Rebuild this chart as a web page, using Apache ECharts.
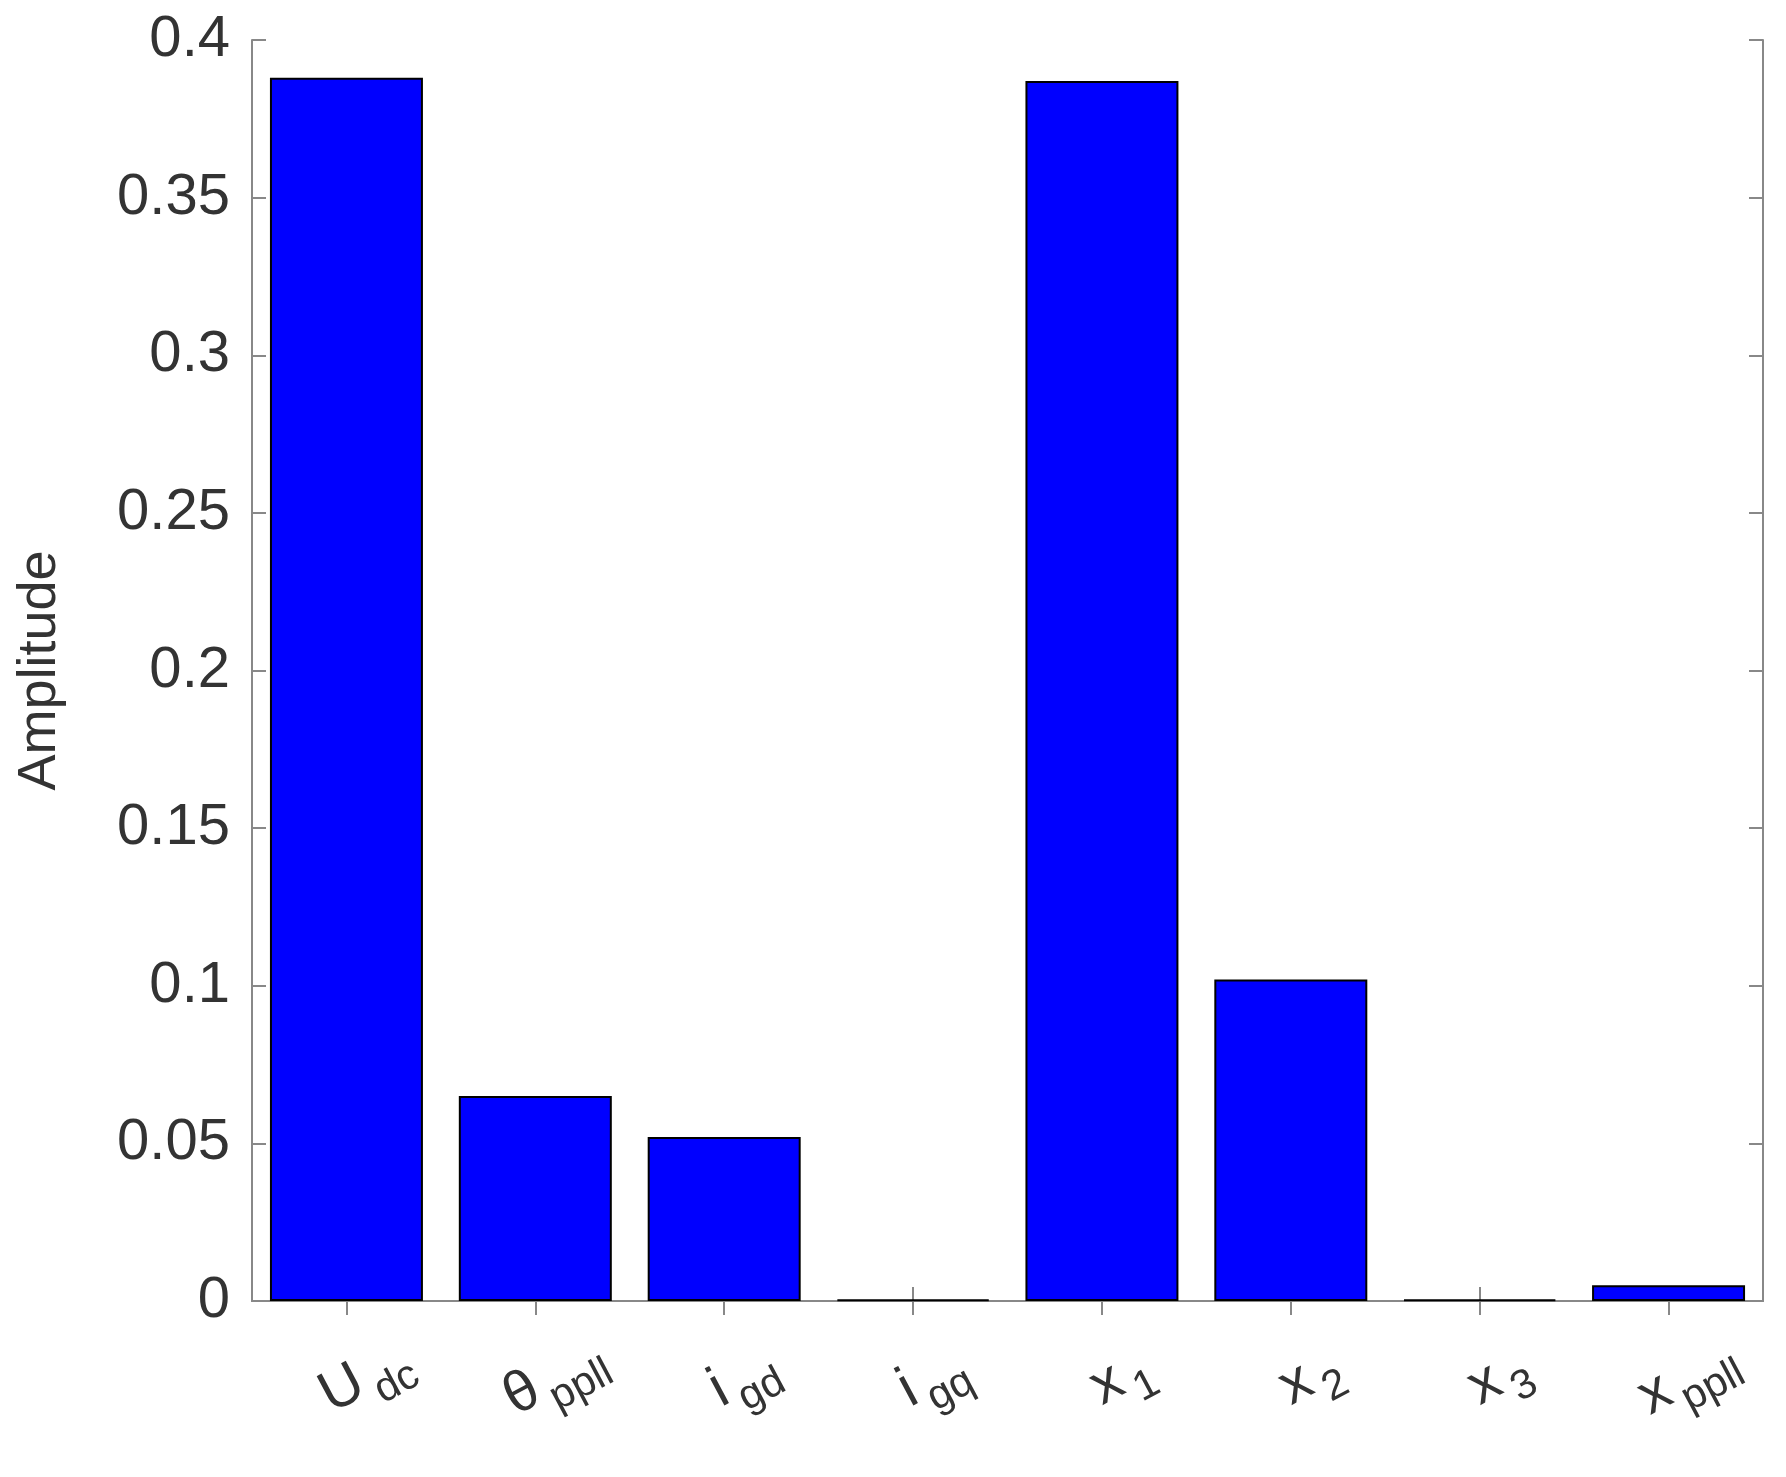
<!DOCTYPE html>
<html><head><meta charset="utf-8">
<script src="https://cdn.jsdelivr.net/npm/echarts@6/dist/echarts.min.js"></script>
<style>html,body{margin:0;padding:0;background:#fff}#c{width:1786px;height:1477px}</style>
</head><body><div id="c"></div>
<script>
const categories = ['{m|U}{s|dc}','{m|θ}{s|ppll}','{m|i}{s|gd}','{m|i}{s|gq}','{m|x}{s|1}','{m|x}{s|2}','{m|x}{s|3}','{m|x}{s|ppll}'];
const amplitude = [0.388, 0.065, 0.052, 0.0005, 0.387, 0.102, 0.0005, 0.005];
const yTicks = [0, 0.05, 0.1, 0.15, 0.2, 0.25, 0.3, 0.35, 0.4];
const font = 'Liberation Sans, Arial, sans-serif';
const chart = echarts.init(document.getElementById('c'));
const axLine = {show:true, lineStyle:{color:'#888', width:2}};
chart.setOption({
  animation:false,
  grid:{left:252, top:40, right:23, bottom:176},
  xAxis:[{type:'category', data:categories, axisLine:axLine,
    axisTick:{show:true, inside:true, alignWithLabel:true, length:14, lineStyle:{color:'#888',width:2}},
    axisLabel:{rotate:28, margin:40, interval:0, align:'center', verticalAlign:'top',
      rich:{m:{fontSize:58, fontFamily:font, color:'#333'}, s:{fontSize:42, fontFamily:font, color:'#333', padding:[40,0,0,8]}}}},
    {type:'category', data:categories, position:'top', axisLine:axLine,
    axisTick:{show:true, inside:true, alignWithLabel:true, length:14, lineStyle:{color:'#888',width:2}}, axisLabel:{show:false}}],
  yAxis:[{type:'value', min:0, max:0.4, interval:0.05, name:'Amplitude', nameLocation:'middle', nameGap:185,
    nameTextStyle:{fontSize:54, fontFamily:font, color:'#333'},
    axisLine:axLine, axisTick:{show:true, inside:true, length:14, lineStyle:{color:'#888',width:2}},
    splitLine:{show:false},
    axisLabel:{fontSize:58, fontFamily:font, color:'#333', margin:22,
      formatter:v=>{const t=yTicks.find(x=>Math.abs(x-v)<1e-9); return t===undefined?'':String(t);}}},
    {type:'value', min:0, max:0.4, interval:0.05, position:'right', axisLine:axLine,
    axisTick:{show:true, inside:true, length:14, lineStyle:{color:'#888',width:2}}, axisLabel:{show:false}, splitLine:{show:false}}],
  series:[{type:'bar', data:amplitude, barWidth:'81%', itemStyle:{color:'#0000ff', borderColor:'#000', borderWidth:2}}]
});
</script></body></html>
